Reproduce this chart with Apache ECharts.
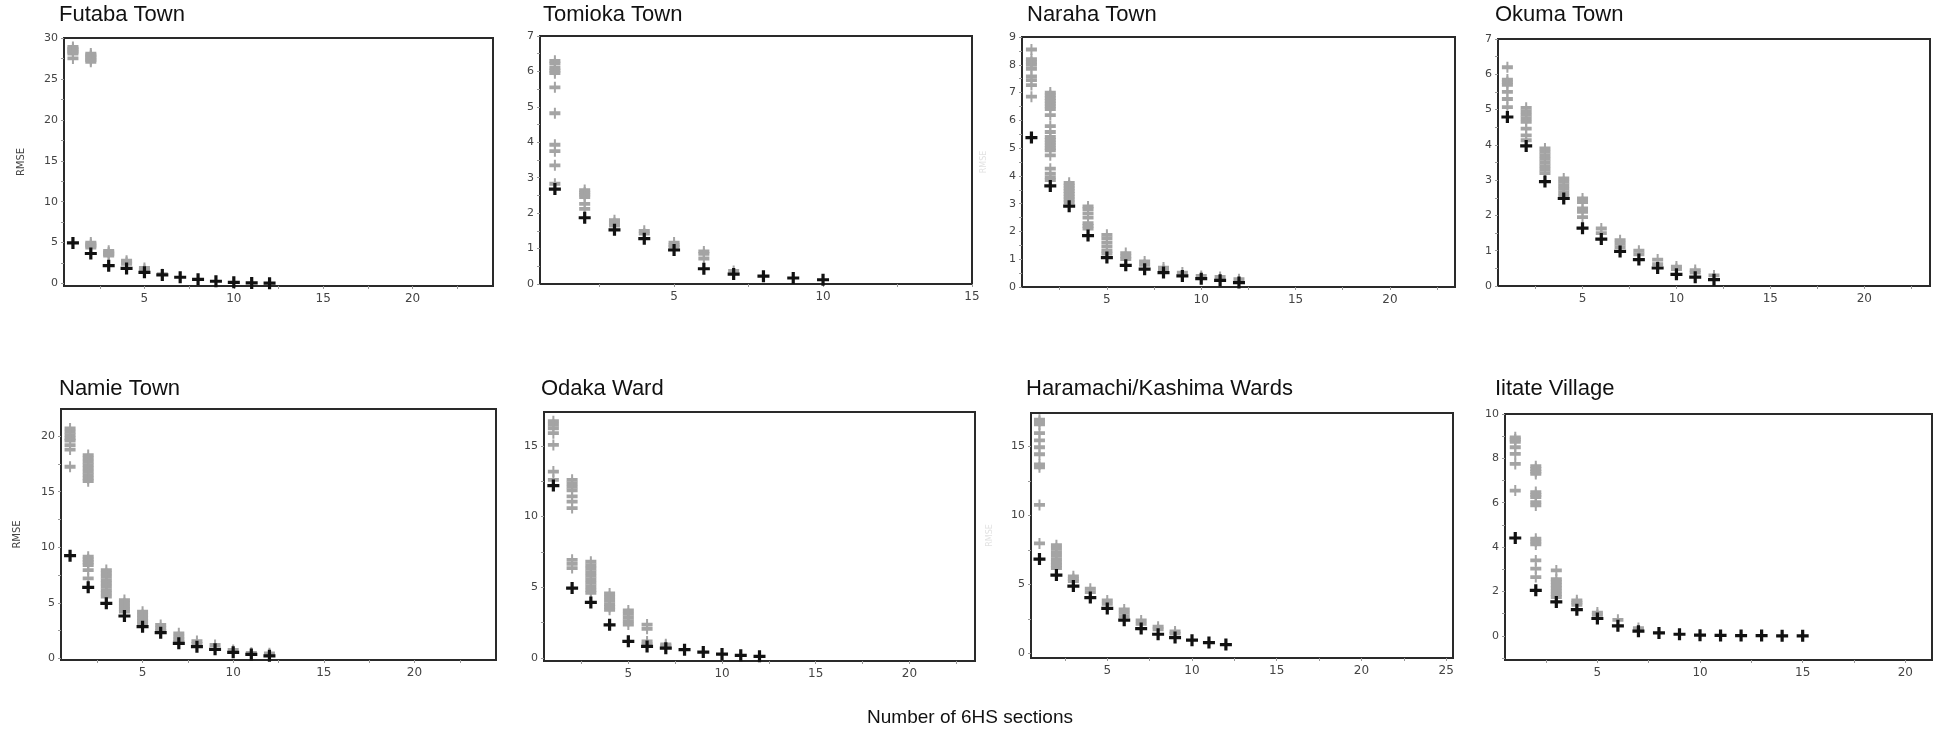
<!DOCTYPE html>
<html>
<head>
<meta charset="utf-8">
<script src="https://cdn.jsdelivr.net/npm/echarts@6/dist/echarts.min.js"></script>
<style>
html,body{margin:0;padding:0;background:#fff;}
#chart{width:1940px;height:736px;}
</style>
</head>
<body>
<div id="chart"></div>
<script>
// ---------------- DATA ----------------
const panelTitles = ["Futaba Town","Tomioka Town","Naraha Town","Okuma Town","Namie Town","Odaka Ward","Haramachi/Kashima Wards","Iitate Village"];
const xAxisTitle = "Number of 6HS sections";
const yAxisTitle = "RMSE";

// best RMSE (black crosses), index 0 = 1 section
const futabaBest = [4.96, 3.67, 2.18, 1.85, 1.37, 1.05, 0.77, 0.52, 0.28, 0.15, 0.08, 0.05];
const tomiokaBest = [2.68, 1.87, 1.53, 1.28, 0.96, 0.43, 0.28, 0.22, 0.17, 0.12];
const narahaBest = [5.38, 3.64, 2.91, 1.85, 1.06, 0.78, 0.64, 0.52, 0.4, 0.3, 0.24, 0.16];
const okumaBest = [4.79, 3.97, 2.96, 2.48, 1.64, 1.33, 0.98, 0.75, 0.51, 0.33, 0.25, 0.18];
const namieBest = [9.24, 6.39, 4.95, 3.81, 2.85, 2.31, 1.35, 1.05, 0.81, 0.54, 0.35, 0.23];
const odakaBest = [12.19, 4.93, 3.92, 2.33, 1.16, 0.8, 0.68, 0.57, 0.4, 0.26, 0.17, 0.1];
const haramachiBest = [6.85, 5.69, 4.89, 4.06, 3.27, 2.42, 1.81, 1.4, 1.16, 0.97, 0.8, 0.65];
const iitateBest = [4.41, 2.05, 1.53, 1.18, 0.78, 0.45, 0.21, 0.13, 0.07, 0.03, 0.02, 0.01, 0.01, 0.0, 0.0];

// other RMSE values (grey crosses), one list per number of sections
const futabaOthers = [
  [28.9, 28.7, 28.5, 28.3, 28.1, 27.5],
  [28.1, 27.9, 27.7, 27.5, 27.3, 27.1, 5.0, 4.8, 4.6, 4.4],
  [4.0, 3.8, 3.6, 3.4],
  [2.8, 2.6, 2.4],
  [1.9, 1.7],
  [1.15]
];
const tomiokaOthers = [
  [6.3, 6.22, 6.1, 6.02, 5.95, 5.55, 4.82, 3.93, 3.75, 3.35, 2.83],
  [2.65, 2.58, 2.52, 2.45, 2.26, 2.12],
  [1.8, 1.72, 1.65],
  [1.5, 1.42],
  [1.17, 1.1, 1.05],
  [0.92, 0.85, 0.72],
  [0.37]
];
const narahaOthers = [
  [8.55, 8.2, 8.1, 8.0, 7.85, 7.58, 7.45, 7.27, 6.85],
  [7.0, 6.9, 6.8, 6.7, 6.6, 6.5, 6.4, 6.19, 5.79, 5.58, 5.4, 5.3, 5.2, 5.1, 5.0, 4.92, 4.74, 4.26, 4.08, 3.95, 3.85],
  [3.75, 3.65, 3.55, 3.45, 3.35, 3.25, 3.15, 3.05],
  [2.9, 2.8, 2.65, 2.5, 2.3, 2.2, 2.1],
  [1.88, 1.75, 1.6, 1.45, 1.3, 1.2],
  [1.22, 1.1, 1.0],
  [0.92, 0.8],
  [0.7, 0.62],
  [0.52],
  [0.4],
  [0.36],
  [0.28]
];
const okumaOthers = [
  [6.2, 5.85, 5.78, 5.7, 5.5, 5.3, 5.07],
  [5.05, 4.95, 4.85, 4.75, 4.65, 4.46, 4.27, 4.13],
  [3.9, 3.8, 3.7, 3.6, 3.5, 3.4, 3.3, 3.2],
  [3.05, 2.95, 2.85, 2.75, 2.65, 2.55],
  [2.48, 2.38, 2.2, 2.1, 1.95],
  [1.63, 1.5],
  [1.3, 1.2, 1.1],
  [1.0, 0.9],
  [0.75, 0.62],
  [0.55, 0.48],
  [0.45, 0.38],
  [0.3]
];
const namieOthers = [
  [20.7, 20.4, 20.1, 19.8, 19.6, 19.2, 18.8, 17.25],
  [18.3, 18.0, 17.7, 17.4, 17.1, 16.8, 16.5, 16.2, 15.95, 9.15, 8.9, 8.65, 8.4, 7.95, 7.2],
  [7.95, 7.65, 7.35, 7.05, 6.75, 6.45, 6.15, 5.85, 5.55],
  [5.25, 4.95, 4.65, 4.4, 4.2],
  [4.2, 3.9, 3.6, 3.35, 3.15],
  [3.0, 2.7, 2.45],
  [2.25, 1.95, 1.7, 1.5],
  [1.55, 1.3],
  [1.2],
  [0.75],
  [0.5],
  [0.45]
];
const odakaOthers = [
  [16.75, 16.5, 16.25, 15.9, 15.07, 13.18, 12.6],
  [12.6, 12.35, 12.1, 11.85, 11.42, 11.06, 10.6, 6.93, 6.65, 6.35],
  [6.8, 6.55, 6.3, 6.05, 5.8, 5.55, 5.3, 5.05, 4.8, 4.6],
  [4.55, 4.3, 4.05, 3.8, 3.6, 3.4],
  [3.35, 3.1, 2.85, 2.6, 2.35],
  [2.35, 2.05, 1.15, 0.95],
  [0.95, 0.85]
];
const haramachiOthers = [
  [16.95, 16.8, 16.6, 15.97, 15.44, 14.95, 14.44, 13.7, 13.5, 10.77, 7.98],
  [7.85, 7.6, 7.35, 7.1, 6.85, 6.6, 6.4, 6.2],
  [5.6, 5.4, 5.25],
  [4.7, 4.45],
  [3.85, 3.6],
  [3.2, 2.95, 2.7],
  [2.4, 2.15],
  [1.95, 1.75],
  [1.6, 1.45]
];
const iitateOthers = [
  [8.95, 8.85, 8.75, 8.5, 8.2, 7.75, 6.55],
  [7.65, 7.52, 7.4, 7.3, 6.48, 6.35, 6.25, 6.03, 5.88, 4.38, 4.25, 4.12, 3.4, 3.03, 2.65],
  [2.95, 2.55, 2.42, 2.28, 2.15, 2.0, 1.87, 1.75],
  [1.6, 1.5, 1.4],
  [1.05, 0.95],
  [0.72],
  [0.35]
];

// tick labels
const yTickLabels = [
  [0, 5, 10, 15, 20, 25, 30],
  [0, 1, 2, 3, 4, 5, 6, 7],
  [0, 1, 2, 3, 4, 5, 6, 7, 8, 9],
  [0, 1, 2, 3, 4, 5, 6, 7],
  [0, 5, 10, 15, 20],
  [0, 5, 10, 15],
  [0, 5, 10, 15],
  [0, 2, 4, 6, 8, 10]
];
const xTickLabels = [
  [5, 10, 15, 20],
  [5, 10, 15],
  [5, 10, 15, 20],
  [5, 10, 15, 20],
  [5, 10, 15, 20],
  [5, 10, 15, 20],
  [5, 10, 15, 20, 25],
  [5, 10, 15, 20]
];

// ---------------- LAYOUT ----------------
const bestSets = [futabaBest, tomiokaBest, narahaBest, okumaBest, namieBest, odakaBest, haramachiBest, iitateBest];
const otherSets = [futabaOthers, tomiokaOthers, narahaOthers, okumaOthers, namieOthers, odakaOthers, haramachiOthers, iitateOthers];

const boxes = [
  {l: 64, t: 38, r: 493, b: 286, xmax: 24.5, ymin: -0.3, ymax: 30},
  {l: 540, t: 36, r: 972, b: 284, xmax: 15, ymin: 0, ymax: 7},
  {l: 1022, t: 37, r: 1455, b: 287, xmax: 23.45, ymin: 0, ymax: 9},
  {l: 1498, t: 39, r: 1930, b: 286, xmax: 23.5, ymin: 0, ymax: 7},
  {l: 61, t: 409, r: 496, b: 660, xmax: 24.5, ymin: -0.15, ymax: 22.45},
  {l: 544, t: 412, r: 975, b: 661, xmax: 23.5, ymin: -0.23, ymax: 17.4},
  {l: 1031, t: 413, r: 1453, b: 658, xmax: 25.4, ymin: -0.32, ymax: 17.43},
  {l: 1505, t: 414, r: 1932, b: 660, xmax: 21.3, ymin: -1.09, ymax: 10}
];
const titlePos = [[59, 4], [543, 4], [1027, 4], [1495, 4], [59, 378], [541, 378], [1026, 378], [1495, 378]];

const crossBlack = 'path://M0,4.4H12V7.6H0Z M4.4,0H7.6V12H4.4Z';
const crossGrey = 'path://M0,3.6H11V7.4H0Z M4.5,0H6.5V11H4.5Z';

function halfTicks(lo, hi, step) {
  const out = [];
  for (let v = Math.ceil(lo / step) * step; v <= hi + 1e-9; v += step) out.push(+v.toFixed(4));
  return out;
}

const grids = [], xAxes = [], yAxes = [], series = [], titles = [];
boxes.forEach((bx, i) => {
  grids.push({left: bx.l, top: bx.t, width: bx.r - bx.l, height: bx.b - bx.t,
    show: true, borderColor: '#2a2a2a', borderWidth: 2, backgroundColor: '#fff'});
  const xl = xTickLabels[i];
  const yl = yTickLabels[i];
  const xStep = (xl[1] - xl[0]) / 2;
  const yStep = (yl[1] - yl[0]) / 2;
  xAxes.push({
    type: 'value', gridIndex: i, min: 0.5, max: bx.xmax,
    axisLine: {show: true, onZero: false, lineStyle: {color: '#2a2a2a', width: 2}},
    splitLine: {show: false},
    axisTick: {show: true, customValues: halfTicks(0.5, bx.xmax, xStep), length: 3, lineStyle: {color: '#999', width: 1}},
    axisLabel: {customValues: xl, color: '#444', fontSize: 12, margin: 7, fontFamily: 'DejaVu Sans'}
  });
  const yAx = {
    type: 'value', gridIndex: i, min: bx.ymin, max: bx.ymax,
    axisLine: {show: true, onZero: false, lineStyle: {color: '#2a2a2a', width: 2}},
    splitLine: {show: false},
    axisTick: {show: true, customValues: halfTicks(bx.ymin, bx.ymax, yStep), length: 3, lineStyle: {color: '#999', width: 1}},
    axisLabel: {customValues: yl, color: '#444', fontSize: 11, margin: 6, fontFamily: 'DejaVu Sans'}
  };
  if (i === 0 || i === 4) {
    yAx.name = yAxisTitle;
    yAx.nameLocation = 'middle';
    yAx.nameGap = i === 0 ? 38 : 39;
    yAx.nameTextStyle = {color: '#444', fontSize: 10, fontFamily: 'DejaVu Sans'};
  }
  if (i === 2 || i === 6) {
    yAx.name = yAxisTitle;
    yAx.nameLocation = 'middle';
    yAx.nameGap = i === 2 ? 34 : 37;
    yAx.nameTextStyle = {color: '#e2e2e2', fontSize: 8, fontFamily: 'DejaVu Sans'};
  }
  yAxes.push(yAx);

  const greyPts = [];
  otherSets[i].forEach((ys, k) => ys.forEach(y => greyPts.push([k + 1, y])));
  series.push({
    type: 'scatter', xAxisIndex: i, yAxisIndex: i, data: greyPts,
    symbol: crossGrey, symbolSize: [11, 11], itemStyle: {color: '#a4a4a4', opacity: 1},
    silent: true, z: 2
  });
  series.push({
    type: 'scatter', xAxisIndex: i, yAxisIndex: i,
    data: bestSets[i].map((y, k) => [k + 1, y]),
    symbol: crossBlack, symbolSize: [12, 12], itemStyle: {color: '#111', opacity: 1},
    silent: true, z: 3
  });
  titles.push({text: panelTitles[i], left: titlePos[i][0], top: titlePos[i][1], padding: 0,
    textStyle: {fontFamily: 'Liberation Sans', fontSize: 22, fontWeight: 'normal', color: '#111'}});
});

const chart = echarts.init(document.getElementById('chart'), null, {renderer: 'canvas'});
chart.setOption({
  animation: false,
  backgroundColor: '#fff',
  title: titles,
  grid: grids,
  xAxis: xAxes,
  yAxis: yAxes,
  series: series,
  graphic: [{
    type: 'text', left: 'center', top: 708,
    style: {text: xAxisTitle, font: '19px "Liberation Sans"', fill: '#111'}
  }]
});
</script>
</body>
</html>
